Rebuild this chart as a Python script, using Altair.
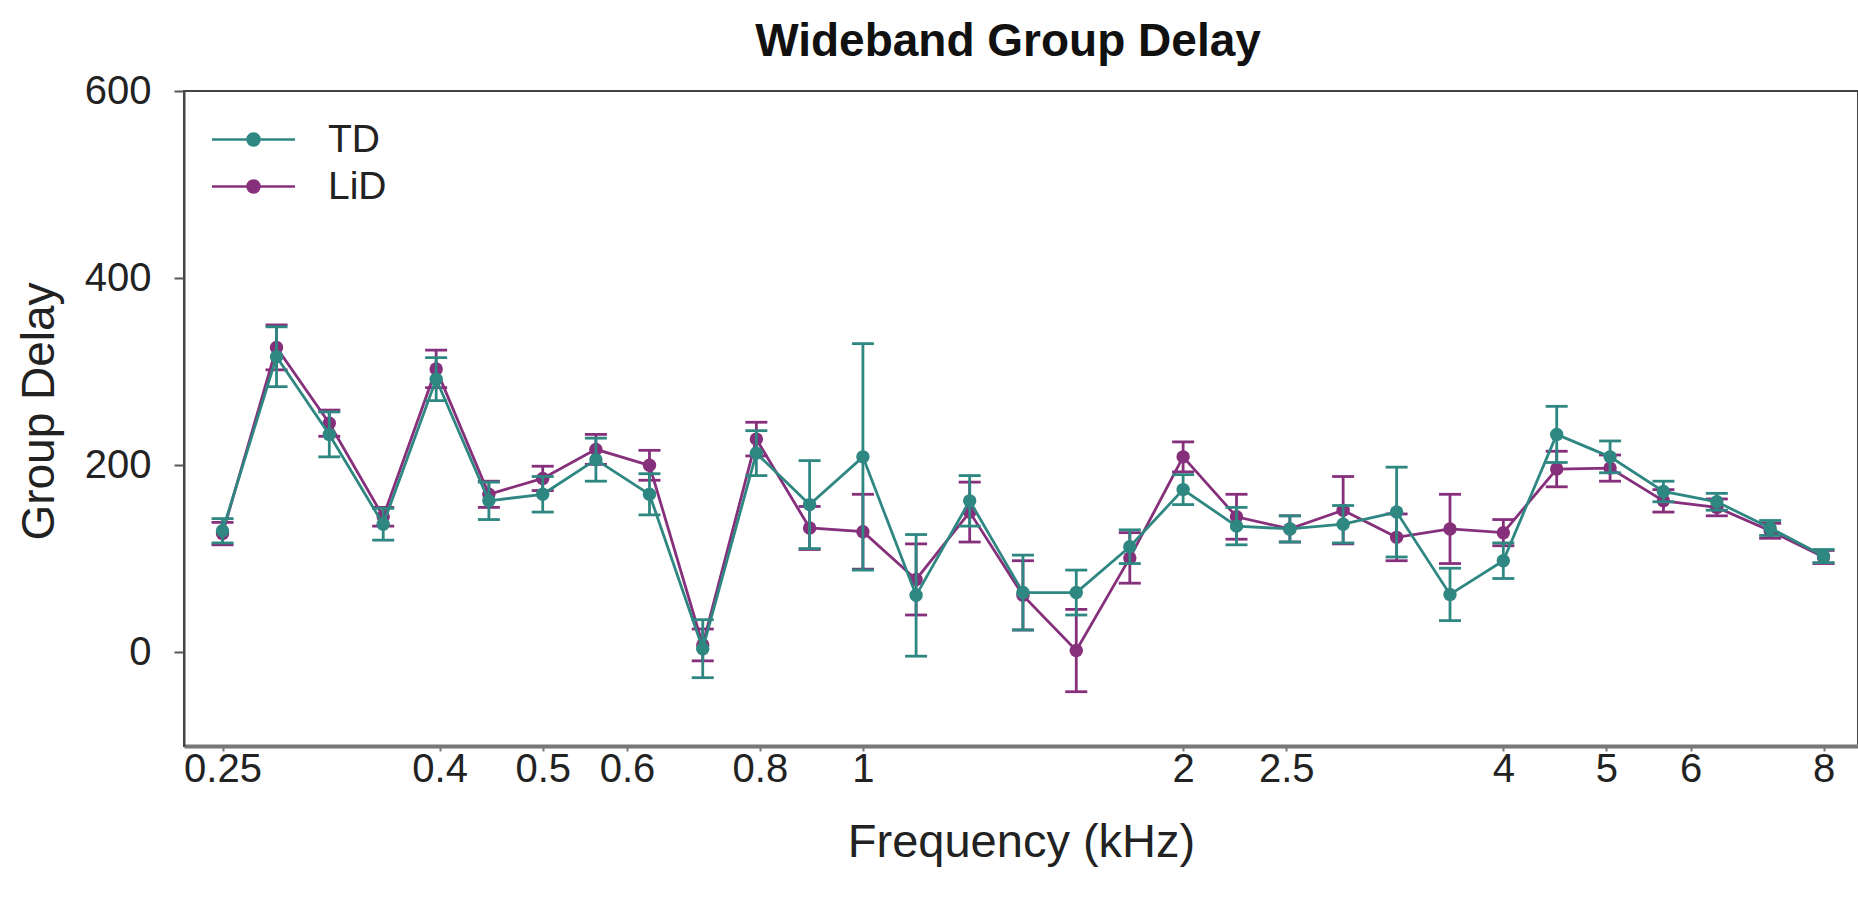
import altair as alt
import pandas as pd

# ---- data ----
freqs = [0.25, 0.281, 0.315, 0.354, 0.397, 0.445, 0.5, 0.561, 0.63, 0.707, 0.794,
         0.891, 1.0, 1.122, 1.26, 1.414, 1.587, 1.782, 2.0, 2.245, 2.52, 2.828,
         3.175, 3.564, 4.0, 4.49, 5.04, 5.657, 6.35, 7.127, 8.0]
td_mean = [130, 316, 233, 137, 292, 162, 169, 206, 169, 4, 213, 158, 209, 61, 162, 64,
           64, 113, 174, 135, 132, 137, 150, 62, 98, 233, 209, 172, 161, 133, 103]
td_err = [13, 32, 24, 17, 23, 20, 19, 23, 22, 31, 24, 47, 121, 65, 27, 40,
          24, 18, 16, 20, 14, 20, 48, 28, 19, 30, 17, 11, 9, 8, 7]
lid_mean = [127, 326, 245, 145, 303, 169, 186, 217, 200, 8, 228, 133, 129, 78, 150, 61,
            2, 101, 209, 145, 132, 152, 123, 132, 128, 196, 197, 162, 155, 130, 102]
lid_err = [12, 24, 14, 10, 20, 14, 13, 16, 16, 17, 18, 23, 40, 38, 32, 37,
           44, 27, 16, 24, 14, 36, 25, 37, 14, 19, 14, 12, 9, 8, 7]

x_ticks = [0.25, 0.4, 0.5, 0.6, 0.8, 1, 2, 2.5, 4, 5, 6, 8]
y_ticks = [0, 200, 400, 600]
groups = ["TD", "LiD"]
colors = ["#2f8782", "#86307c"]

rows = []
for g, means, errs in [("TD", td_mean, td_err), ("LiD", lid_mean, lid_err)]:
    for f, m, e in zip(freqs, means, errs):
        rows.append({"freq": f, "value": m, "lo": m - e, "hi": m + e, "group": g})
df = pd.DataFrame(rows)

FONT = "Liberation Sans"

xscale = alt.Scale(type="log", domain=[0.23, 8.62], nice=False)
yscale = alt.Scale(domain=[-100, 600], nice=False, zero=False)
cscale = alt.Scale(domain=groups, range=colors)

SYMBOL = ("M-4.15,0H4.15"
          "M-0.6,0a0.6,0.6 0 1,0 1.2,0a0.6,0.6 0 1,0 -1.2,0"
          "M-0.37,0a0.37,0.37 0 1,0 0.74,0a0.37,0.37 0 1,0 -0.74,0"
          "M-0.13,0a0.13,0.13 0 1,0 0.26,0a0.13,0.13 0 1,0 -0.26,0")

legend = alt.Legend(
    title=None, orient="none", legendX=50, legendY=29, padding=0,
    symbolType=SYMBOL, symbolSize=400, symbolStrokeWidth=2.5, symbolOpacity=1,
    labelFont=FONT, labelFontSize=39, labelColor="#222", labelOffset=55,
    rowPadding=7,
)

xaxis = alt.Axis(
    values=x_ticks, format="~g", title="Frequency (kHz)",
    titleFont=FONT, titleFontSize=47, titleFontWeight="normal", titleColor="#222",
    titleBaseline="alphabetic", titleY=110,
    labelFont=FONT, labelFontSize=40, labelColor="#222", labelPadding=-2,
    labelFlush=False, labelOverlap=False,
    tickSize=5, tickColor="#777", tickWidth=2,
    domainColor="#777", domainWidth=4, grid=False,
)
yaxis = alt.Axis(
    values=y_ticks, title="Group Delay",
    titleFont=FONT, titleFontSize=46, titleFontWeight="normal", titleColor="#222",
    titleBaseline="alphabetic", titleX=-131, titleY=320,
    labelFont=FONT, labelFontSize=40, labelColor="#222", labelPadding=23,
    tickSize=10, tickColor="#555", tickWidth=2,
    domainColor="#444", domainWidth=2, grid=False,
)

base = alt.Chart(df)
x = alt.X("freq:Q", scale=xscale, axis=xaxis)
color = alt.Color("group:N", scale=cscale, legend=legend)

layers = []
for g in ["LiD", "TD"]:
    b = base.transform_filter(alt.datum.group == g)
    layers.append(b.mark_line(strokeWidth=2.8, opacity=1).encode(
        x=x, y=alt.Y("value:Q", scale=yscale, axis=yaxis), color=color))
    layers.append(b.mark_rule(strokeWidth=2.8, opacity=1).encode(
        x=x, y="lo:Q", y2="hi:Q", color=color))
    layers.append(b.mark_tick(orient="horizontal", size=22, thickness=2.8, opacity=1).encode(
        x=x, y="lo:Q", color=color))
    layers.append(b.mark_tick(orient="horizontal", size=22, thickness=2.8, opacity=1).encode(
        x=x, y="hi:Q", color=color))
    layers.append(b.mark_point(filled=True, size=180, opacity=1).encode(
        x=x, y="value:Q", color=color))

chart = alt.layer(*layers).properties(
    width=1674, height=655,
    background="white",
    title=alt.TitleParams(
        "Wideband Group Delay", font=FONT, fontSize=46, fontWeight="bold",
        color="#111", anchor="middle", frame="group", offset=-31, dx=-13,
        baseline="alphabetic"),
    autosize=alt.AutoSizeParams(type="none"),
    padding={"left": 184, "top": 91, "right": 0, "bottom": 154},
).configure_view(stroke="#444", strokeWidth=2)

chart.save("out.html", embed_options={"renderer": "svg", "actions": False})
